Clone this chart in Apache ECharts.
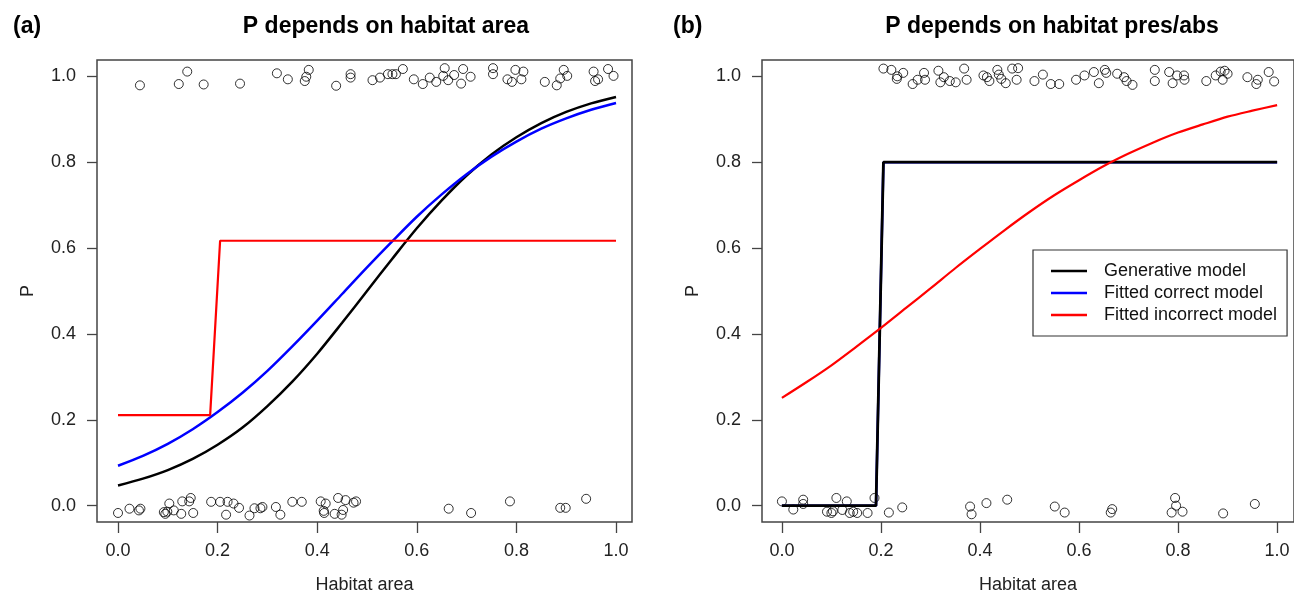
<!DOCTYPE html>
<html>
<head>
<meta charset="utf-8">
<title>P vs habitat</title>
<script src="https://cdn.jsdelivr.net/npm/echarts@6/dist/echarts.min.js"></script>
</head>
<body style="margin:0">
<div id="container" style="width:1294px;height:599px"></div>
<script type="text/javascript">

    // tick positions shared by both axes of both panels
    const tickValues = [0, 0.2, 0.4, 0.6, 0.8, 1.0];

    // x grid for the smooth curves
    const curveX = [0, 0.05, 0.1, 0.15, 0.2, 0.25, 0.3, 0.35, 0.4, 0.45, 0.5,
                    0.55, 0.6, 0.65, 0.7, 0.75, 0.8, 0.85, 0.9, 0.95, 1.0];

    // panel (a) curves
    const generativeA = [0.047, 0.063, 0.083, 0.109, 0.142, 0.182, 0.232, 0.289, 0.354, 0.426, 0.500,
                         0.574, 0.646, 0.711, 0.769, 0.818, 0.858, 0.891, 0.917, 0.937, 0.952];
    const fittedCorrectA = [0.093, 0.116, 0.144, 0.178, 0.218, 0.263, 0.314, 0.371, 0.431, 0.493, 0.555,
                            0.615, 0.673, 0.725, 0.772, 0.813, 0.848, 0.878, 0.902, 0.922, 0.938];
    const stepAX = [0, 0.185, 0.205, 1.0];
    const fittedIncorrectA = [0.211, 0.211, 0.617, 0.617];

    // panel (b) curves
    const stepBX = [0, 0.19, 0.205, 1.0];
    const generativeB = [0, 0, 0.8, 0.8];
    const fittedCorrectB = [0, 0, 0.8, 0.8];
    const fittedIncorrectB = [0.251, 0.288, 0.327, 0.370, 0.414, 0.460, 0.506, 0.553, 0.598, 0.642, 0.684,
                              0.723, 0.758, 0.791, 0.820, 0.846, 0.869, 0.888, 0.906, 0.920, 0.933];

    // observed presences / absences (jittered), panel (a)
    const presentA = [
        [0.044, 0.979], [0.122, 0.982], [0.139, 1.011], [0.172, 0.981], [0.245, 0.983], [0.319, 1.007],
        [0.341, 0.993], [0.383, 1.015], [0.378, 0.999], [0.375, 0.989], [0.438, 0.978], [0.467, 1.005],
        [0.467, 0.997], [0.511, 0.991], [0.526, 0.997], [0.542, 1.005], [0.551, 1.005], [0.558, 1.005],
        [0.572, 1.017], [0.594, 0.993], [0.612, 0.982], [0.626, 0.997], [0.639, 0.987], [0.653, 1.001],
        [0.656, 1.019], [0.663, 0.991], [0.675, 1.003], [0.689, 0.983], [0.693, 1.017], [0.708, 0.999],
        [0.753, 1.019], [0.753, 1.005], [0.782, 0.993], [0.791, 0.987], [0.798, 1.015], [0.810, 0.993],
        [0.814, 1.011], [0.857, 0.987], [0.881, 0.979], [0.888, 0.995], [0.895, 1.015], [0.902, 1.001],
        [0.955, 1.011], [0.958, 0.989], [0.964, 0.993], [0.984, 1.017], [0.995, 1.001]
    ];
    const absentA = [
        [0.000, -0.017], [0.023, -0.007], [0.042, -0.011], [0.045, -0.007], [0.095, -0.019], [0.099, -0.014],
        [0.103, 0.005], [0.092, -0.015], [0.112, -0.011], [0.127, -0.019], [0.129, 0.010], [0.143, 0.010],
        [0.146, 0.018], [0.151, -0.017], [0.187, 0.009], [0.205, 0.009], [0.217, -0.021], [0.220, 0.009],
        [0.232, 0.005], [0.243, -0.005], [0.264, -0.023], [0.274, -0.006], [0.286, -0.006], [0.290, -0.003],
        [0.317, -0.003], [0.326, -0.021], [0.350, 0.009], [0.369, 0.009], [0.407, 0.010], [0.417, 0.005],
        [0.413, -0.012], [0.414, -0.017], [0.435, -0.019], [0.442, 0.018], [0.452, -0.010], [0.449, -0.021],
        [0.457, 0.013], [0.473, 0.007], [0.478, 0.010], [0.664, -0.007], [0.709, -0.017], [0.787, 0.010],
        [0.888, -0.005], [0.899, -0.005], [0.940, 0.016]
    ];

    // observed presences / absences (jittered), panel (b)
    const presentB = [
        [0.205, 1.018], [0.221, 1.015], [0.233, 1.000], [0.232, 0.994], [0.245, 1.008], [0.264, 0.982],
        [0.274, 0.992], [0.287, 1.008], [0.289, 0.992], [0.316, 1.013], [0.327, 0.998], [0.320, 0.986],
        [0.339, 0.989], [0.351, 0.986], [0.368, 1.018], [0.373, 0.992], [0.407, 1.002], [0.414, 0.998],
        [0.419, 0.989], [0.435, 1.015], [0.438, 1.004], [0.443, 0.994], [0.452, 0.984], [0.465, 1.018],
        [0.477, 1.019], [0.474, 0.992], [0.510, 0.989], [0.527, 1.004], [0.543, 0.982], [0.560, 0.982],
        [0.594, 0.992], [0.611, 1.002], [0.630, 1.010], [0.640, 0.984], [0.652, 1.015], [0.655, 1.008],
        [0.677, 1.006], [0.691, 0.998], [0.696, 0.989], [0.708, 0.980], [0.753, 1.015], [0.753, 0.989],
        [0.782, 1.010], [0.789, 0.984], [0.798, 1.002], [0.813, 0.992], [0.812, 1.002], [0.857, 0.989],
        [0.876, 1.002], [0.886, 1.011], [0.894, 1.013], [0.900, 1.006], [0.890, 0.992], [0.940, 0.998],
        [0.958, 0.982], [0.961, 0.992], [0.983, 1.010], [0.994, 0.988]
    ];
    const absentB = [
        [0.000, 0.010], [0.023, -0.009], [0.043, 0.014], [0.043, 0.004], [0.091, -0.014], [0.100, -0.017],
        [0.103, -0.013], [0.110, 0.018], [0.122, -0.010], [0.131, 0.010], [0.137, -0.017], [0.144, -0.014],
        [0.152, -0.017], [0.173, -0.017], [0.187, 0.018], [0.216, -0.016], [0.243, -0.004], [0.380, -0.002],
        [0.383, -0.020], [0.413, 0.006], [0.455, 0.014], [0.551, -0.002], [0.571, -0.016], [0.664, -0.016],
        [0.667, -0.008], [0.787, -0.016], [0.794, 0.018], [0.796, 0.000], [0.809, -0.014], [0.891, -0.018],
        [0.955, 0.004]
    ];

    const FONT = 'Liberation Sans, Arial, sans-serif';
    const AXIS_COLOR = '#444';

    function zip(xs, ys) {
        return xs.map(function (x, i) { return [x, ys[i]]; });
    }

    function xAxisFor(gridIndex, min, max) {
        return {
            type: 'value', gridIndex: gridIndex, min: min, max: max,
            name: 'Habitat area', nameLocation: 'middle', nameGap: 54,
            nameTextStyle: {fontSize: 18, color: '#222', fontFamily: FONT},
            axisLine: {show: false, onZero: false},
            splitLine: {show: false},
            axisTick: {show: true, inside: false, customValues: tickValues, length: 11,
                       lineStyle: {color: AXIS_COLOR, width: 1.3}},
            axisLabel: {customValues: tickValues, margin: 20, fontSize: 18, color: '#222', fontFamily: FONT,
                        formatter: function (v) { return v.toFixed(1); }}
        };
    }

    function yAxisFor(gridIndex) {
        return {
            type: 'value', gridIndex: gridIndex, min: -0.038, max: 1.038,
            name: 'P', nameLocation: 'middle', nameGap: 60, nameRotate: 90,
            nameTextStyle: {fontSize: 18, color: '#222', fontFamily: FONT},
            axisLine: {show: false, onZero: false},
            splitLine: {show: false},
            axisTick: {show: true, inside: false, customValues: tickValues, length: 10,
                       lineStyle: {color: AXIS_COLOR, width: 1.3}},
            axisLabel: {customValues: tickValues, margin: 21, fontSize: 18, color: '#222', fontFamily: FONT,
                        formatter: function (v) { return v.toFixed(1); }}
        };
    }

    function points(data, gi) {
        return {
            type: 'scatter', xAxisIndex: gi, yAxisIndex: gi, data: data,
            symbol: 'circle', symbolSize: 9, silent: true,
            itemStyle: {color: 'rgba(0,0,0,0)', borderColor: '#000', borderWidth: 1}
        };
    }

    function curve(name, data, gi, color, width, smooth) {
        return {
            type: 'line', name: name, xAxisIndex: gi, yAxisIndex: gi, data: data,
            showSymbol: false, symbol: 'none', smooth: smooth,
            lineStyle: {color: color, width: width}, itemStyle: {color: color}
        };
    }

    let chart = echarts.init(document.getElementById('container'));

    chart.setOption({
        animation: false,
        backgroundColor: '#fff',
        title: [
            {text: '(a)', left: 8, top: 10, textStyle: {fontSize: 23, fontWeight: 'bold', color: '#000', fontFamily: FONT}},
            {text: 'P depends on habitat area', left: 381, top: 10, textAlign: 'center',
             textStyle: {fontSize: 23, fontWeight: 'bold', color: '#000', fontFamily: FONT}},
            {text: '(b)', left: 668, top: 10, textStyle: {fontSize: 23, fontWeight: 'bold', color: '#000', fontFamily: FONT}},
            {text: 'P depends on habitat pres/abs', left: 1047, top: 10, textAlign: 'center',
             textStyle: {fontSize: 23, fontWeight: 'bold', color: '#000', fontFamily: FONT}}
        ],
        grid: [
            {left: 97, top: 60, width: 535, height: 465, show: true, borderColor: AXIS_COLOR, borderWidth: 1.5},
            {left: 762, top: 60, width: 535, height: 465, show: true, borderColor: AXIS_COLOR, borderWidth: 1.5}
        ],
        xAxis: [xAxisFor(0, -0.0422, 1.0321), xAxisFor(1, -0.0402, 1.0341)],
        yAxis: [yAxisFor(0), yAxisFor(1)],
        legend: {
            orient: 'vertical', left: 1033, top: 250,
            data: ['Generative model', 'Fitted correct model', 'Fitted incorrect model'],
            icon: 'rect', itemWidth: 36, itemHeight: 2.5, itemGap: 4,
            padding: [12, 10, 12, 18],
            borderColor: '#333', borderWidth: 1.2, backgroundColor: '#fff',
            selectedMode: false,
            textStyle: {fontSize: 18, color: '#111', fontFamily: FONT, padding: [0, 0, 0, 12]}
        },
        series: [
            points(presentA, 0),
            points(absentA, 0),
            curve('Generative model', zip(curveX, generativeA), 0, '#000', 2.5, 0.3),
            curve('Fitted correct model', zip(curveX, fittedCorrectA), 0, '#0000ff', 2.5, 0.3),
            curve('Fitted incorrect model', zip(stepAX, fittedIncorrectA), 0, '#ff0000', 2.2, false),

            points(presentB, 1),
            points(absentB, 1),
            curve('Fitted correct model', zip(stepBX, fittedCorrectB), 1, '#0000ff', 2.5, false),
            curve('Generative model', zip(stepBX, generativeB), 1, '#000', 2.8, false),
            curve('Fitted incorrect model', zip(curveX, fittedIncorrectB), 1, '#ff0000', 2.2, 0.3)
        ]
    });

</script>
</body>
</html>
